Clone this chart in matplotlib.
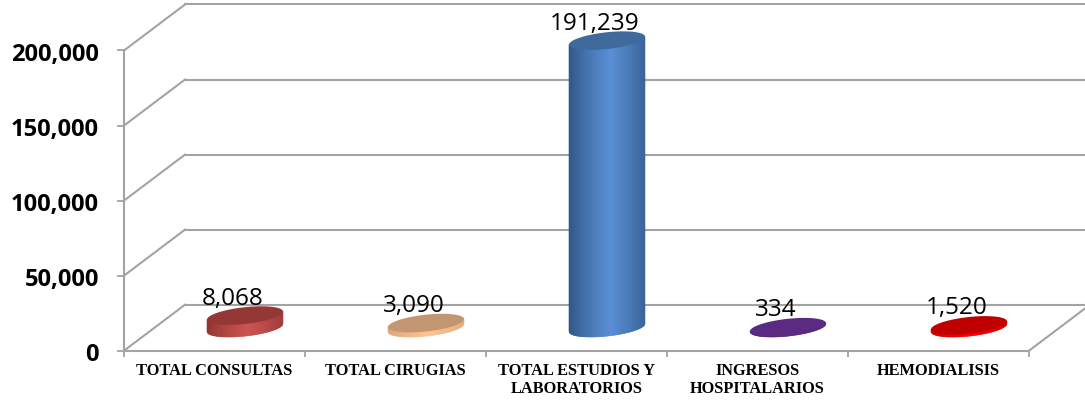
import numpy as np
import matplotlib
matplotlib.use("Agg")
import matplotlib.pyplot as plt
from matplotlib.collections import PolyCollection
from matplotlib.patches import Polygon
from matplotlib.colors import to_rgb
from matplotlib.transforms import Affine2D, IdentityTransform

categories = ["TOTAL CONSULTAS", "TOTAL CIRUGIAS", "TOTAL ESTUDIOS Y\nLABORATORIOS",
              "INGRESOS\nHOSPITALARIOS", "HEMODIALISIS"]
values = [8068, 3090, 191239, 334, 1520]
y_ticks = [0, 50000, 100000, 150000, 200000]
y_labels = ["0", "50,000", "100,000", "150,000", "200,000"]
cap_colors = ["#953735", "#c29670", "#3f6a9c", "#5b2a82", "#c00000"]
edge_colors = ["#8e3431", "#d9a679", "#2f5684", "#402060", "#c80000"]
mid_colors = ["#cd5552", "#fdc491", "#5a8fd6", "#5b2a82", "#ff0000"]

GRID = "#a3a3a3"
DX, DY = 61, 46      # depth of the floor, pixels
RX, RY, SHEAR = 38, 8.4, 0.105

fig = plt.figure(figsize=(10.85, 4), dpi=100)
fig.patch.set_facecolor("white")
ax = fig.add_axes([124 / 1085, (400 - 350.7) / 400, 905 / 1085, 300.2 / 400])
ax.set_xlim(0, 5)
ax.set_ylim(0, 200000)
ax.patch.set_visible(False)
for s in ("top", "right"):
    ax.spines[s].set_visible(False)
for s in ("left", "bottom"):
    ax.spines[s].set_color(GRID)
    ax.spines[s].set_linewidth(1.5)

ax.set_yticks(y_ticks)
ax.set_yticklabels(y_labels, fontfamily="Open Sans", fontweight="bold", fontsize=17, color="#000000")
ax.tick_params(axis="y", length=5, width=1.3, color=GRID, pad=13)
shift = Affine2D().translate(0, -1.5)
for t in ax.get_yticklabels():
    t.set_transform(t.get_transform() + shift)

ax.set_xticks(np.arange(6))
ax.set_xticklabels([])
ax.tick_params(axis="x", which="major", length=4, width=1.3, color=GRID)
ax.set_xticks(np.arange(5) + 0.5, minor=True)
ax.set_xticklabels(categories, minor=True, fontfamily="Liberation Serif",
                   fontweight="bold", fontsize=11.8, linespacing=1.22)
ax.tick_params(axis="x", which="minor", length=0, pad=8.5)

back = ax.transData + Affine2D().translate(DX, DY)
ident = IdentityTransform()
for v in y_ticks:
    ax.plot([0, 5], [v, v], color=GRID, lw=1.5, transform=back, clip_on=False, zorder=1)
    x0, y0 = ax.transData.transform((0, v))
    ax.plot([x0, x0 + DX], [y0, y0 + DY], color=GRID, lw=1.5,
            transform=ident, clip_on=False, zorder=1)
x0, y0 = ax.transData.transform((5, 0))
ax.plot([x0, x0 + DX], [y0, y0 + DY], color=GRID, lw=1.5,
        transform=ident, clip_on=False, zorder=1)


def blend(c1, c2, f):
    a, b = np.array(to_rgb(c1)), np.array(to_rgb(c2))
    return tuple(a + (b - a) * f)


for i, v in enumerate(values):
    cx, base = ax.transData.transform((i + 0.5, 0))
    _, top = ax.transData.transform((i + 0.5, v))
    cx += DX / 2
    base += DY / 2
    top += DY / 2

    xs = np.linspace(-RX, RX, 77)
    verts, cols = [], []
    for a, b in zip(xs[:-1], xs[1:]):
        m = (a + b) / 2
        low = lambda q: base + SHEAR * q - RY * np.sqrt(max(0, 1 - (q / RX) ** 2))
        up = lambda q: top + SHEAR * q
        verts.append([(cx + a, low(a)), (cx + b, low(b)), (cx + b, up(b)), (cx + a, up(a))])
        f = 1 - abs(m / RX - 0.1) / 1.1
        cols.append(blend(edge_colors[i], mid_colors[i], min(1, f ** 0.8)))
    ax.add_collection(PolyCollection(verts, facecolors=cols, edgecolors=cols, linewidths=0.4,
                                     transform=ident, clip_on=False, zorder=3), autolim=False)

    t = np.linspace(0, 2 * np.pi, 120)
    ex = RX * np.cos(t)
    ey = RY * np.sin(t) + SHEAR * ex
    ax.add_patch(Polygon(np.c_[cx + ex, top + ey], closed=True, facecolor=cap_colors[i],
                         edgecolor="none", transform=ident, clip_on=False, zorder=4))

    ax.annotate(f"{v:,}", xy=(i + 0.5, v), xytext=(18.5 * 0.72, 40 * 0.72),
                textcoords="offset points", ha="center", va="center",
                fontfamily="Open Sans", fontsize=17.5, color="#000000",
                annotation_clip=False, zorder=5)

fig.savefig("out.png", dpi=100, facecolor="white")
